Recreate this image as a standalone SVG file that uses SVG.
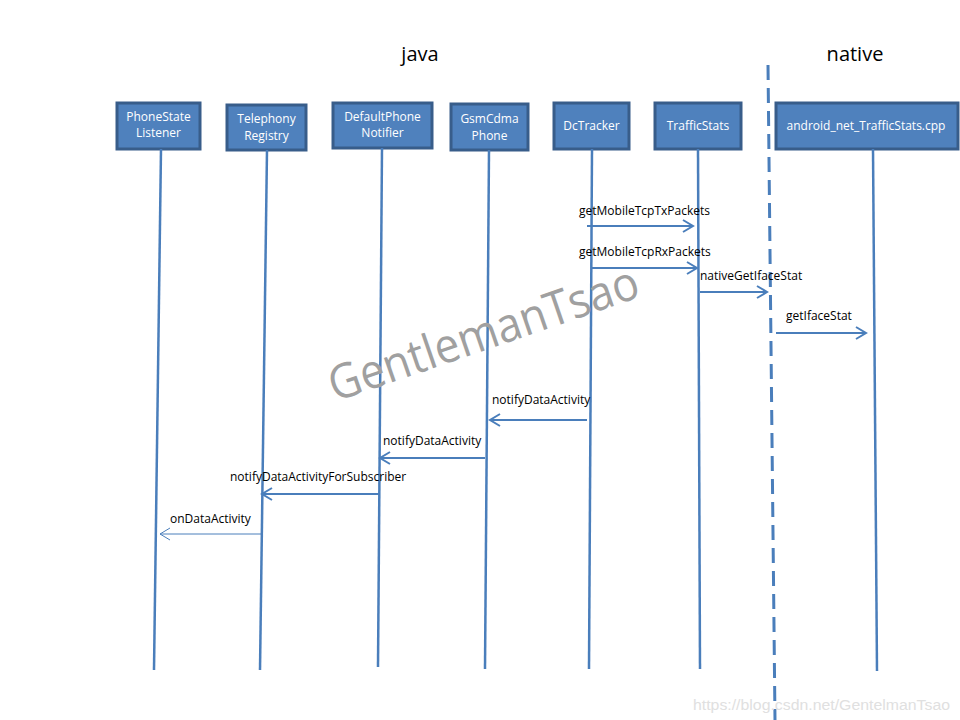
<svg xmlns="http://www.w3.org/2000/svg" width="960" height="720" viewBox="0 0 960 720">
<style>
.box{fill:#4F81BD;stroke:#385D8A;stroke-width:3}
.bt{font-family:"Open Sans","Liberation Sans",sans-serif;font-size:12px;fill:#fff;text-anchor:middle}
.life{stroke:#4A7EBB;stroke-width:2.5;fill:none}
.msg{stroke:#4A7EBB;stroke-width:2;fill:none;marker-end:url(#ah)}
.msg2{stroke:#4A7EBB;stroke-width:1;fill:none;marker-end:url(#ah2)}
.lbl{font-family:"Open Sans","Liberation Sans",sans-serif;font-size:12px;fill:#000}
.hdr{font-family:"Open Sans","Liberation Sans",sans-serif;font-size:20px;fill:#000;text-anchor:middle}
</style>
<defs>
<marker id="ah" markerUnits="userSpaceOnUse" markerWidth="14" markerHeight="14" refX="12" refY="7" orient="auto">
<path d="M2,1 L12,7 L2,13" fill="none" stroke="#4A7EBB" stroke-width="2"/>
</marker>
<marker id="ah2" markerUnits="userSpaceOnUse" markerWidth="14" markerHeight="14" refX="12" refY="7" orient="auto">
<path d="M2,1 L12,7 L2,13" fill="none" stroke="#4A7EBB" stroke-width="1"/>
</marker>
</defs>
<rect width="960" height="720" fill="#fff"/>
<text class="hdr" x="420" y="61">java</text>
<text class="hdr" x="855" y="61">native</text>
<line x1="768" y1="65" x2="775" y2="720" stroke="#4A7EBB" stroke-width="3" stroke-dasharray="15,8"/>
<g id="n1"><rect class="box" x="117" y="103" width="83" height="46"/><text class="bt" x="158.5" y="121">PhoneState</text><text class="bt" x="158.5" y="137">Listener</text></g>
<g id="n2"><rect class="box" x="227" y="105" width="79" height="45"/><text class="bt" x="266.5" y="123">Telephony</text><text class="bt" x="266.5" y="140">Registry</text></g>
<g id="n3"><rect class="box" x="333" y="103" width="99" height="45"/><text class="bt" x="382.5" y="121">DefaultPhone</text><text class="bt" x="382.5" y="137">Notifier</text></g>
<g id="n4"><rect class="box" x="451" y="104" width="77" height="46"/><text class="bt" x="489.5" y="123">GsmCdma</text><text class="bt" x="489.5" y="140">Phone</text></g>
<g id="n5"><rect class="box" x="554" y="103" width="75" height="46"/><text class="bt" x="591.5" y="130">DcTracker</text></g>
<g id="n6"><rect class="box" x="655" y="103" width="86" height="46"/><text class="bt" x="698" y="130">TrafficStats</text></g>
<g id="n7"><rect class="box" x="776" y="103" width="182" height="46"/><text class="bt" x="866" y="130">android_net_TrafficStats.cpp</text></g>
<g id="connectors">
<line class="life" x1="161" y1="149" x2="154" y2="670"/>
<line class="life" x1="267" y1="150" x2="260" y2="670"/>
<line class="life" x1="382" y1="148" x2="378" y2="667"/>
<line class="life" x1="489" y1="150" x2="485" y2="669"/>
<line class="life" x1="592" y1="149" x2="589" y2="669"/>
<line class="life" x1="698" y1="149" x2="700" y2="669"/>
<line class="life" x1="873" y1="149" x2="877" y2="671"/>
<line class="msg" x1="587" y1="226" x2="693" y2="226"/>
<text class="lbl" x="579" y="215">getMobileTcpTxPackets</text>
<line class="msg" x1="592" y1="268" x2="697" y2="268"/>
<text class="lbl" x="579" y="256">getMobileTcpRxPackets</text>
<line class="msg" x1="700" y1="292" x2="767" y2="292"/>
<text class="lbl" x="700" y="280">nativeGetIfaceStat</text>
<line class="msg" x1="776" y1="333" x2="866" y2="333"/>
<text class="lbl" x="786" y="320">getIfaceStat</text>
<line class="msg" x1="587" y1="420" x2="490" y2="420"/>
<text class="lbl" x="492" y="404">notifyDataActivity</text>
<line class="msg" x1="485" y1="458" x2="380" y2="458"/>
<text class="lbl" x="383" y="445">notifyDataActivity</text>
<line class="msg" x1="379" y1="494" x2="262" y2="494"/>
<text class="lbl" x="230" y="481">notifyDataActivityForSubscriber</text>
<line class="msg2" x1="262" y1="534" x2="160" y2="534"/>
<text class="lbl" x="170" y="523">onDataActivity</text>
</g>
<text x="335" y="402" transform="rotate(-19 335 402)" font-family="'Open Sans','Liberation Sans',sans-serif" font-size="48" fill="#A0A0A0" textLength="325" lengthAdjust="spacingAndGlyphs">GentlemanTsao</text>
<text x="693" y="710" font-family="'Liberation Sans',Arial,sans-serif" font-size="14" fill="#e0e0e0" textLength="257" lengthAdjust="spacingAndGlyphs">https://blog.csdn.net/GentelmanTsao</text>
</svg>
